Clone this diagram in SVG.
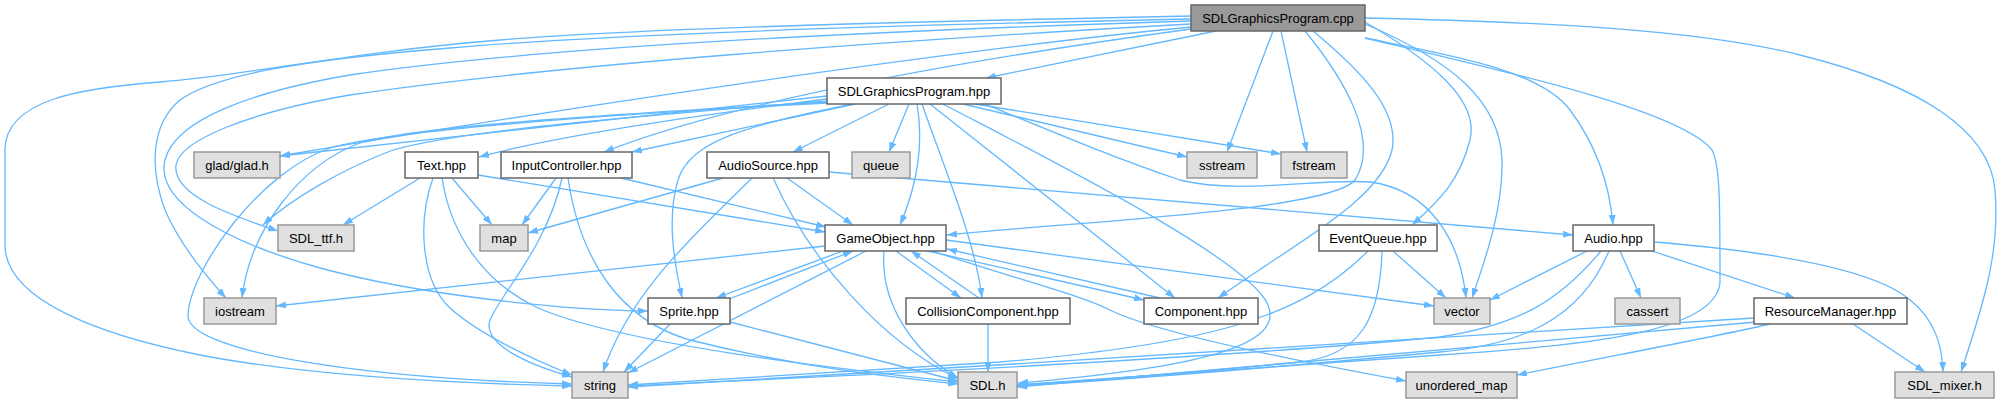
<svg xmlns="http://www.w3.org/2000/svg" width="2003" height="403" viewBox="0 0 2003 403">
<style>
.n rect{fill:#ffffff;stroke:#666666;stroke-width:1.5}
.e rect{fill:#e0e0e0;stroke:#999999;stroke-width:1.5}
.r rect{fill:#999999;stroke:#666666;stroke-width:1.5}
text{font-family:"Liberation Sans",Arial,sans-serif;font-size:13px;text-anchor:middle;fill:#000000}
#edges path{fill:none;stroke:#63b8ff;stroke-width:1.3;marker-end:url(#a)}
</style>
<defs>
<marker id="a" viewBox="0 0 10 7" refX="10" refY="3.5" markerWidth="10" markerHeight="7" markerUnits="userSpaceOnUse" orient="auto"><path d="M0,0L10,3.5L0,7z" fill="#63b8ff"/></marker>
</defs>
<rect width="2003" height="403" fill="#ffffff"/>
<g id="edges">
<path d="M1216,31 L986,78"/>
<path d="M1273,31 L1227,152"/>
<path d="M1281,31 L1307,152"/>
<path d="M1191,27 C950,50 550,110 280,156"/>
<path d="M1191,16 C900,22 650,28 500,40 C350,52 250,75 160,82 C80,88 5,100 5,150 L5,245 C5,300 100,335 200,355 C320,378 480,384 572,386"/>
<path d="M1191,19 C900,25 600,35 450,48 C300,60 215,75 180,100 C150,125 150,170 165,210 C180,245 205,275 226,298"/>
<path d="M1191,21 C900,30 550,45 350,75 C250,92 175,120 165,160 C155,200 220,240 320,268 C420,295 560,310 648,311"/>
<path d="M1191,24 C900,40 550,65 350,95 C250,112 180,140 176,165 C172,195 230,215 278,231"/>
<path d="M1191,29 C1000,55 750,95 604,152"/>
<path d="M1305,31 C1345,80 1380,140 1355,180 C1330,210 1100,220 947,235"/>
<path d="M1313,31 C1360,70 1400,110 1392,150 C1380,200 1300,240 1218,298"/>
<path d="M1365,22 C1430,60 1480,100 1470,140 C1460,180 1440,200 1412,225"/>
<path d="M1365,24 C1450,60 1500,100 1502,160 C1503,210 1485,260 1472,298"/>
<path d="M1365,38 C1450,55 1540,70 1570,110 C1600,150 1610,190 1613,225"/>
<path d="M1365,38 C1500,70 1680,110 1712,150 C1720,165 1720,200 1720,283 C1715,330 1600,345 1440,355 C1250,368 1100,380 1018,385"/>
<path d="M1365,18 C1550,22 1700,30 1800,55 C1920,85 1990,130 1995,190 C2000,250 1985,300 1961,372"/>
<path d="M827,96 C700,110 420,140 280,156"/>
<path d="M827,99 C700,115 560,135 479,157"/>
<path d="M855,104 L632,152"/>
<path d="M827,101 C650,115 460,130 393,150 C340,170 290,200 263,225"/>
<path d="M827,102 C650,112 420,125 360,143 C300,165 250,230 242,298"/>
<path d="M827,103 C600,115 400,130 333,147 C260,170 190,270 188,315 C186,350 350,378 572,384"/>
<path d="M853,104 C750,125 690,140 678,180 C666,220 675,265 682,298"/>
<path d="M889,104 L793,152"/>
<path d="M909,104 L889,152"/>
<path d="M917,104 C925,150 915,190 900,225"/>
<path d="M922,104 C945,170 975,240 982,298"/>
<path d="M930,104 L1175,298"/>
<path d="M943,104 C1050,160 1250,260 1268,305 C1285,345 1200,368 1018,383"/>
<path d="M963,104 L1187,157"/>
<path d="M975,104 L1281,154"/>
<path d="M985,104 C1060,135 1120,160 1180,180 C1240,195 1320,178 1370,182 C1430,190 1460,240 1466,298"/>
<path d="M420,178 L343,225"/>
<path d="M452,178 L492,225"/>
<path d="M433,178 C418,220 420,280 450,308 C480,335 530,358 572,375"/>
<path d="M442,178 C450,230 480,280 536,307 C620,345 850,370 958,382"/>
<path d="M478,175 L825,232"/>
<path d="M556,178 L522,225"/>
<path d="M562,178 C548,245 500,295 490,320 C482,345 530,365 572,377"/>
<path d="M568,178 C580,260 620,320 690,340 C800,368 900,378 958,384"/>
<path d="M621,178 L826,227"/>
<path d="M723,178 L528,233"/>
<path d="M752,178 C700,230 630,290 603,372"/>
<path d="M787,178 L853,225"/>
<path d="M773,178 C810,260 880,340 958,379"/>
<path d="M829,172 L1573,235"/>
<path d="M825,246 L276,306"/>
<path d="M843,251 L716,298"/>
<path d="M729,299 L853,251"/>
<path d="M896,251 L961,298"/>
<path d="M979,298 L911,251"/>
<path d="M928,251 L1144,300"/>
<path d="M1160,298 L947,249"/>
<path d="M946,240 L1434,306"/>
<path d="M866,251 L628,373"/>
<path d="M884,251 C880,300 910,350 958,378"/>
<path d="M932,251 C1020,280 1080,295 1110,310 C1160,335 1320,365 1406,381"/>
<path d="M670,324 L624,372"/>
<path d="M730,322 L958,381"/>
<path d="M988,324 L988,372"/>
<path d="M1393,251 L1446,298"/>
<path d="M1368,251 C1300,320 1200,345 1000,362 C850,372 700,380 628,385"/>
<path d="M1382,251 C1380,320 1360,355 1300,362 C1200,372 1100,380 1017,385"/>
<path d="M1587,251 L1490,300"/>
<path d="M1620,251 L1641,298"/>
<path d="M1652,251 L1795,298"/>
<path d="M1655,242 C1750,250 1870,265 1910,300 C1935,320 1942,345 1943,372"/>
<path d="M1601,251 C1560,300 1520,325 1440,337 C1200,360 800,378 628,386"/>
<path d="M1609,251 C1580,320 1520,345 1440,352 C1300,365 1150,378 1017,386"/>
<path d="M1754,318 C1500,335 1000,365 628,387"/>
<path d="M1756,322 C1500,345 1200,370 1017,387"/>
<path d="M1770,324 C1700,340 1600,358 1517,375"/>
<path d="M1853,324 L1925,372"/>
</g>
<g id="n_cpp" class="r"><rect x="1191" y="5" width="174" height="26"/><text x="1278" y="22.5">SDLGraphicsProgram.cpp</text></g>
<g id="n_hpp" class="n"><rect x="827" y="78" width="174" height="26"/><text x="914" y="95.5">SDLGraphicsProgram.hpp</text></g>
<g id="n_glad" class="e"><rect x="194" y="152" width="86" height="26"/><text x="237" y="169.5">glad/glad.h</text></g>
<g id="n_text" class="n"><rect x="405" y="152" width="73" height="26"/><text x="441.5" y="169.5">Text.hpp</text></g>
<g id="n_input" class="n"><rect x="501" y="152" width="131" height="26"/><text x="566.5" y="169.5">InputController.hpp</text></g>
<g id="n_audiosource" class="n"><rect x="707" y="152" width="122" height="26"/><text x="768" y="169.5">AudioSource.hpp</text></g>
<g id="n_queue" class="e"><rect x="852" y="152" width="58" height="26"/><text x="881" y="169.5">queue</text></g>
<g id="n_sstream" class="e"><rect x="1187" y="152" width="70" height="26"/><text x="1222" y="169.5">sstream</text></g>
<g id="n_fstream" class="e"><rect x="1281" y="152" width="66" height="26"/><text x="1314" y="169.5">fstream</text></g>
<g id="n_sdlttf" class="e"><rect x="278" y="225" width="76" height="26"/><text x="316" y="242.5">SDL_ttf.h</text></g>
<g id="n_map" class="e"><rect x="480" y="225" width="48" height="26"/><text x="504" y="242.5">map</text></g>
<g id="n_gameobject" class="n"><rect x="825" y="225" width="121" height="26"/><text x="885.5" y="242.5">GameObject.hpp</text></g>
<g id="n_eventqueue" class="n"><rect x="1319" y="225" width="118" height="26"/><text x="1378" y="242.5">EventQueue.hpp</text></g>
<g id="n_audio" class="n"><rect x="1573" y="225" width="81" height="26"/><text x="1613.5" y="242.5">Audio.hpp</text></g>
<g id="n_iostream" class="e"><rect x="204" y="298" width="72" height="26"/><text x="240" y="315.5">iostream</text></g>
<g id="n_sprite" class="n"><rect x="648" y="298" width="82" height="26"/><text x="689" y="315.5">Sprite.hpp</text></g>
<g id="n_collision" class="n"><rect x="906" y="298" width="164" height="26"/><text x="988" y="315.5">CollisionComponent.hpp</text></g>
<g id="n_component" class="n"><rect x="1144" y="298" width="114" height="26"/><text x="1201" y="315.5">Component.hpp</text></g>
<g id="n_vector" class="e"><rect x="1434" y="298" width="56" height="26"/><text x="1462" y="315.5">vector</text></g>
<g id="n_cassert" class="e"><rect x="1615" y="298" width="65" height="26"/><text x="1647.5" y="315.5">cassert</text></g>
<g id="n_resource" class="n"><rect x="1754" y="298" width="153" height="26"/><text x="1830.5" y="315.5">ResourceManager.hpp</text></g>
<g id="n_string" class="e"><rect x="572" y="372" width="56" height="26"/><text x="600" y="389.5">string</text></g>
<g id="n_sdl" class="e"><rect x="958" y="372" width="59" height="26"/><text x="987.5" y="389.5">SDL.h</text></g>
<g id="n_unordered" class="e"><rect x="1406" y="372" width="111" height="26"/><text x="1461.5" y="389.5">unordered_map</text></g>
<g id="n_mixer" class="e"><rect x="1895" y="372" width="99" height="26"/><text x="1944.5" y="389.5">SDL_mixer.h</text></g>
</svg>
